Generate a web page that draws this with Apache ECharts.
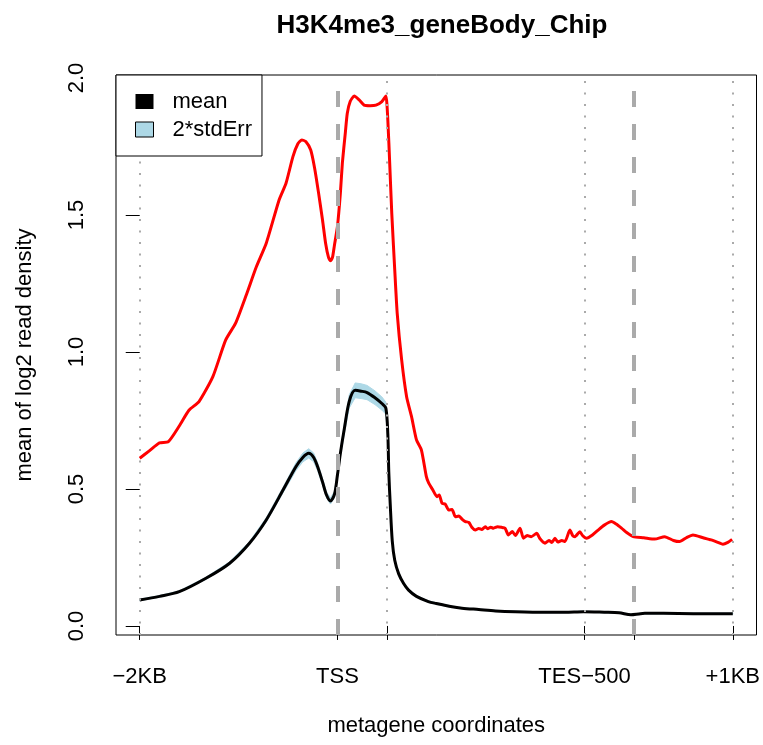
<!DOCTYPE html>
<html>
<head>
<meta charset="utf-8">
<script src="https://cdn.jsdelivr.net/npm/echarts@6/dist/echarts.min.js"></script>
<style>
html, body { margin: 0; padding: 0; background: #fff; }
#chart { width: 763px; height: 745px; }
</style>
</head>
<body>
<div id="chart"></div>
<script>
var FONT = "'Liberation Sans', Arial, sans-serif";

// metagene coordinate (bins): -2KB=0, TSS=200, TSS+500=250, TES-500=450, TES=500, +1KB=600
var tickPositions = [0, 200, 250, 450, 500, 600];
var tickLabels = ["\u22122KB", "TSS", "", "TES\u2212500", "", "+1KB"];
var yTicks = [0, 0.5, 1.0, 1.5, 2.0];
var dottedAt = [0, 250, 450, 600];
var dashedAt = [200, 500];

// mean curve (black) and its standard error (half of the band width)
var meanX = [0, 20, 40, 67, 91, 111, 128, 145, 158, 165, 171, 176, 180, 185, 189, 193, 197, 200, 203, 207,
	212, 218, 224, 230, 238, 245, 249, 251, 252, 253.5, 255.5, 258, 262, 267, 272, 280, 292, 300, 316, 326,
	343, 360, 380, 410, 430, 449, 470, 485, 497, 505, 511, 530, 560, 600];
var meanY = [0.095, 0.108, 0.125, 0.174, 0.229, 0.302, 0.387, 0.496, 0.581, 0.615, 0.630, 0.615, 0.581, 0.525, 0.478, 0.456, 0.480, 0.550, 0.630, 0.720,
	0.820, 0.860, 0.857, 0.852, 0.833, 0.812, 0.795, 0.700, 0.560, 0.440, 0.310, 0.240, 0.190, 0.155, 0.131, 0.108, 0.089, 0.082, 0.070, 0.065,
	0.060, 0.055, 0.052, 0.050, 0.050, 0.052, 0.050, 0.048, 0.041, 0.044, 0.046, 0.046, 0.045, 0.045];
var stdErr = [0.003, 0.003, 0.003, 0.004, 0.005, 0.006, 0.008, 0.010, 0.014, 0.016, 0.017, 0.016, 0.014, 0.012, 0.011, 0.011, 0.011, 0.012, 0.014, 0.018,
	0.024, 0.027, 0.027, 0.026, 0.025, 0.024, 0.022, 0.018, 0.014, 0.010, 0.008, 0.006, 0.005, 0.004, 0.004, 0.003, 0.003, 0.003, 0.002, 0.002,
	0.002, 0.002, 0.002, 0.002, 0.002, 0.002, 0.002, 0.002, 0.002, 0.002, 0.002, 0.002, 0.002, 0.002];

// red curve
var redX = [0, 10, 20, 29, 40, 50, 60, 74, 87, 97, 108, 118, 128, 141, 148, 155, 160, 164, 168, 173,
	177, 181, 185, 188, 191, 193, 195, 197, 200, 203, 205, 208, 210, 213, 217, 222, 227, 233, 239, 245,
	249, 251, 253, 255, 258, 260.5, 265, 270, 275, 280, 285, 290, 292.4, 296, 300.8, 303, 305.8, 309, 312.6, 316,
	319.3, 323, 326, 329.4, 333, 336, 339.5, 343, 346, 349.6, 352, 355, 357.9, 362, 366, 369.6, 373, 377, 380, 384.8,
	388.2, 392, 396, 401.6, 405, 410, 414, 417, 420.1, 423, 427, 430.2, 435.2, 438, 440.3, 445.3, 448, 452.1, 458, 463.8,
	470, 477.3, 482, 487.4, 493, 499.2, 510, 521, 531.1, 540, 546.2, 553, 559.7, 570, 578.1, 585, 590, 595, 599.3];
var redY = [0.612, 0.640, 0.668, 0.673, 0.730, 0.788, 0.819, 0.910, 1.044, 1.105, 1.210, 1.311, 1.397, 1.555, 1.616, 1.713, 1.760, 1.774, 1.768, 1.737,
	1.670, 1.579, 1.480, 1.398, 1.345, 1.333, 1.345, 1.390, 1.457, 1.580, 1.689, 1.800, 1.871, 1.915, 1.934, 1.920, 1.901, 1.899, 1.901, 1.914,
	1.934, 1.847, 1.680, 1.506, 1.300, 1.141, 0.971, 0.837, 0.764, 0.679, 0.642, 0.545, 0.521, 0.500, 0.472, 0.478, 0.448, 0.445, 0.423, 0.425,
	0.399, 0.401, 0.390, 0.381, 0.378, 0.360, 0.350, 0.356, 0.352, 0.362, 0.355, 0.360, 0.357, 0.362, 0.360, 0.357, 0.332, 0.345, 0.330, 0.357,
	0.320, 0.330, 0.326, 0.338, 0.318, 0.302, 0.312, 0.305, 0.320, 0.306, 0.312, 0.308, 0.350, 0.330, 0.326, 0.344, 0.330, 0.320, 0.332, 0.350,
	0.368, 0.381, 0.372, 0.357, 0.340, 0.326, 0.322, 0.317, 0.326, 0.312, 0.308, 0.322, 0.332, 0.322, 0.314, 0.305, 0.298, 0.305, 0.316];

var chart = echarts.init(document.getElementById("chart"), null, { renderer: "canvas" });

var zip = function(xs, ys) {
	return xs.map(function(x, i) { return [x, ys[i]]; });
};
// band rows: x, lower, upper
var bandData = meanX.map(function(x, i) {
	return [x, meanY[i] - stdErr[i], meanY[i] + stdErr[i]];
});

var renderBand = function(params, api) {
	if (params.dataIndex !== 0) return;
	var pts = [];
	for (var i = 0; i < bandData.length; i++) {
		pts.push(api.coord([bandData[i][0], bandData[i][2]]));
	}
	for (var j = bandData.length - 1; j >= 0; j--) {
		pts.push(api.coord([bandData[j][0], bandData[j][1]]));
	}
	return {
		type: "polygon",
		shape: { points: pts },
		style: { fill: "#ADD8E6", stroke: "#ADD8E6", lineWidth: 1 }
	};
};

var refLines = [];
dottedAt.forEach(function(x) {
	refLines.push({ xAxis: x, lineStyle: { color: "#aaaaaa", width: 2, type: [2, 9.5] } });
});
dashedAt.forEach(function(x) {
	refLines.push({ xAxis: x, lineStyle: { color: "#aaaaaa", width: 4, type: [16, 17] } });
});

var option = {
	backgroundColor: "#fff",
	animation: false,
	title: {
		text: "H3K4me3_geneBody_Chip",
		left: 437,
		top: 8,
		textAlign: "center",
		textStyle: { fontFamily: FONT, fontSize: 26, fontWeight: "bold", color: "#000" }
	},
	legend: {
		left: 116,
		top: 75,
		z: 10,
		orient: "vertical",
		padding: [14, 10, 14, 19],
		itemGap: 3,
		itemWidth: 18,
		itemHeight: 15,
		borderColor: "#000",
		borderWidth: 1,
		borderRadius: 0,
		backgroundColor: "#fff",
		selectedMode: false,
		textStyle: { fontFamily: FONT, fontSize: 22, color: "#000", lineHeight: 25, padding: [0, 0, 0, 14] },
		data: [
			{ name: "mean", icon: "rect", itemStyle: { color: "#000", borderWidth: 0 } },
			{ name: "2*stdErr", icon: "rect", itemStyle: { color: "#ADD8E6", borderColor: "#000", borderWidth: 1 } }
		]
	},
	grid: {
		left: 116,
		right: 5,
		top: 75,
		bottom: 110,
		show: true,
		borderColor: "#000",
		borderWidth: 1,
		backgroundColor: "transparent"
	},
	xAxis: {
		type: "value",
		min: -24,
		max: 624,
		name: "metagene coordinates",
		nameLocation: "middle",
		nameGap: 80,
		nameTextStyle: { fontFamily: FONT, fontSize: 22, color: "#000" },
		axisLine: { show: false },
		axisTick: { show: true, length: 14, customValues: tickPositions, lineStyle: { color: "#000", width: 1 } },
		axisLabel: {
			customValues: tickPositions,
			margin: 31,
			fontFamily: FONT,
			fontSize: 22,
			color: "#000",
			formatter: function(v) {
				var i = tickPositions.indexOf(v);
				return i >= 0 ? tickLabels[i] : "";
			}
		},
		splitLine: { show: false }
	},
	yAxis: {
		type: "value",
		min: -0.033,
		max: 2.011,
		name: "mean of log2 read density",
		nameLocation: "middle",
		nameGap: 80,
		nameTextStyle: { fontFamily: FONT, fontSize: 22, color: "#000" },
		axisLine: { show: false },
		axisTick: { show: true, length: 14, customValues: yTicks, lineStyle: { color: "#000", width: 1 } },
		axisLabel: {
			customValues: yTicks,
			rotate: 90,
			margin: 28,
			fontFamily: FONT,
			fontSize: 22,
			color: "#000",
			formatter: function(v) { return v.toFixed(1); }
		},
		splitLine: { show: false }
	},
	series: [
		{
			name: "red",
			type: "line",
			data: zip(redX, redY),
			showSymbol: false,
			smooth: 0.2,
			lineStyle: { color: "#ff0000", width: 3 },
			itemStyle: { color: "#ff0000" },
			z: 2
		},
		{
			name: "2*stdErr",
			type: "custom",
			renderItem: renderBand,
			data: bandData,
			encode: { x: 0, y: [1, 2] },
			itemStyle: { color: "#ADD8E6" },
			silent: true,
			z: 2
		},
		{
			name: "meanLine",
			type: "line",
			data: zip(meanX, meanY),
			showSymbol: false,
			smooth: 0.3,
			lineStyle: { color: "#000", width: 3 },
			itemStyle: { color: "#000" },
			z: 3
		},
		{
			// legend entry only
			name: "mean",
			type: "bar",
			data: [],
			itemStyle: { color: "#000" }
		},
		{
			name: "guides",
			type: "line",
			data: [],
			z: 5,
			markLine: {
				silent: true,
				symbol: ["none", "none"],
				label: { show: false },
				data: refLines
			}
		}
	]
};
chart.setOption(option);
</script>
</body>
</html>
